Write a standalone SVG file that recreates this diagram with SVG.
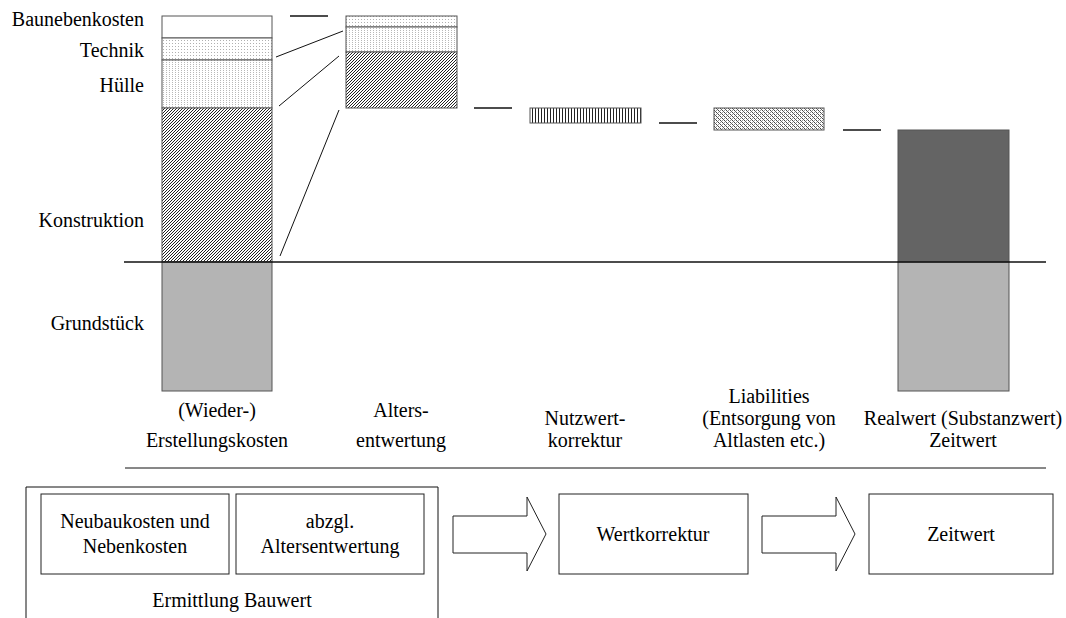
<svg xmlns="http://www.w3.org/2000/svg" width="1066" height="618" viewBox="0 0 1066 618">
<style>
.l{text-anchor:end}
.c{text-anchor:middle}
.seg{stroke:#555;stroke-width:1}
.box{fill:#fff;stroke:#222;stroke-width:1}
.ln{stroke:#111;stroke-width:1;fill:none}
.dash{stroke:#111;stroke-width:1.6}
.arr{fill:#fff;stroke:#222;stroke-width:1}
</style>
<defs>
<pattern id="dots" width="3" height="3" patternUnits="userSpaceOnUse"><rect width="3" height="3" fill="#fff"/><rect x="1" y="1" width="1" height="1" fill="#b0b0b0"/></pattern>
<pattern id="dots2" width="3" height="2" patternUnits="userSpaceOnUse"><rect width="3" height="2" fill="#fff"/><rect x="1" y="0" width="1" height="1" fill="#b8b8b8"/></pattern>
<pattern id="hatch" width="3" height="3" patternUnits="userSpaceOnUse"><rect width="3" height="3" fill="#fff"/><path d="M-1,4 L4,-1 M-1,1 L1,-1 M2,4 L4,2" stroke="#222" stroke-width="1"/></pattern>
<pattern id="vert" width="3" height="3" patternUnits="userSpaceOnUse"><rect width="3" height="3" fill="#fff"/><line x1="1.5" y1="0" x2="1.5" y2="3" stroke="#222" stroke-width="1"/></pattern>
<pattern id="liab" width="4" height="4" patternUnits="userSpaceOnUse"><rect width="4" height="4" fill="#fff"/><rect x="0" y="0" width="1" height="1" fill="#444"/><rect x="1" y="1" width="1" height="1" fill="#666"/><rect x="2" y="2" width="1" height="1" fill="#444"/><rect x="3" y="3" width="1" height="1" fill="#666"/><rect x="2" y="0" width="1" height="1" fill="#999"/><rect x="0" y="2" width="1" height="1" fill="#999"/></pattern>
</defs>
<rect width="1066" height="618" fill="#fff"/>

<g id="bar1-baunebenkosten"><rect class="seg" x="162" y="16" width="110" height="22" fill="#fff"/><text class="l" x="144" y="26" font-family="Liberation Serif" font-size="20">Baunebenkosten</text></g>
<g id="bar1-technik"><rect class="seg" x="162" y="38" width="110" height="22" fill="url(#dots)"/><text class="l" x="144" y="57" font-family="Liberation Serif" font-size="20">Technik</text></g>
<g id="bar1-huelle"><rect class="seg" x="162" y="60" width="110" height="48" fill="url(#dots2)"/><text class="l" x="144" y="92" font-family="Liberation Serif" font-size="20">Hülle</text></g>
<g id="bar1-konstruktion"><rect class="seg" x="162" y="108" width="110" height="154" fill="url(#hatch)"/><text class="l" x="144" y="227" font-family="Liberation Serif" font-size="20">Konstruktion</text></g>
<g id="bar1-grundstueck"><rect class="seg" x="162" y="262" width="110" height="129" fill="#b4b4b4"/><text class="l" x="144" y="330" font-family="Liberation Serif" font-size="20">Grundstück</text></g>
<g id="label1"><text class="c" x="217" y="417" font-family="Liberation Serif" font-size="20">(Wieder-)</text><text class="c" x="217" y="447" font-family="Liberation Serif" font-size="20">Erstellungskosten</text></g>

<g id="bar2">
<rect class="seg" x="346" y="16" width="111" height="11" fill="url(#dots)"/>
<rect class="seg" x="346" y="27" width="111" height="25" fill="url(#dots2)"/>
<rect class="seg" x="346" y="52" width="111" height="56" fill="url(#hatch)"/>
<text class="c" x="401" y="417" font-family="Liberation Serif" font-size="20">Alters-</text><text class="c" x="401" y="447" font-family="Liberation Serif" font-size="20">entwertung</text>
</g>

<g id="bar3"><rect class="seg" x="530" y="108" width="111" height="15" fill="url(#vert)"/><text class="c" x="585" y="425" font-family="Liberation Serif" font-size="20">Nutzwert-</text><text class="c" x="585" y="447" font-family="Liberation Serif" font-size="20">korrektur</text></g>

<g id="bar4"><rect class="seg" x="714" y="108" width="110" height="22" fill="url(#liab)"/><text class="c" x="769" y="403" font-family="Liberation Serif" font-size="20">Liabilities</text><text class="c" x="769" y="425" font-family="Liberation Serif" font-size="20">(Entsorgung von</text><text class="c" x="769" y="447" font-family="Liberation Serif" font-size="20">Altlasten etc.)</text></g>

<g id="bar5"><rect class="seg" x="898" y="130" width="111" height="132" fill="#646464"/><rect class="seg" x="898" y="262" width="111" height="129" fill="#b4b4b4"/><text class="c" x="963" y="425" font-family="Liberation Serif" font-size="20">Realwert (Substanzwert)</text><text class="c" x="963" y="447" font-family="Liberation Serif" font-size="20">Zeitwert</text></g>

<g id="connectors">
<line class="ln" x1="124" y1="262" x2="1046" y2="262" stroke-width="1.5" style="stroke-width:1.5"/>
<line class="ln" x1="125" y1="468" x2="1046" y2="468"/>
<line class="dash" x1="290" y1="16" x2="328" y2="16"/>
<line class="dash" x1="474" y1="108" x2="512" y2="108"/>
<line class="dash" x1="659" y1="123" x2="697" y2="123"/>
<line class="dash" x1="843" y1="130" x2="881" y2="130"/>
<line class="ln" x1="276" y1="57" x2="343" y2="31"/>
<line class="ln" x1="279" y1="106" x2="339" y2="56"/>
<line class="ln" x1="280" y1="256" x2="339" y2="110"/>
<polygon class="arr" points="453,516 527,516 527,497 546,534 527,571 527,553 453,553"/>
<polygon class="arr" points="762,516 836,516 836,497 855,534 836,571 836,553 762,553"/>
</g>

<g id="ermittlung-bauwert"><path class="ln" d="M26,625 V487 H438 V625" stroke="#222"/><text class="c" x="232" y="607" font-family="Liberation Serif" font-size="20">Ermittlung Bauwert</text></g>
<g id="neubaukosten"><rect class="box" x="41" y="494" width="188" height="80"/><text class="c" x="135" y="528" font-family="Liberation Serif" font-size="20">Neubaukosten und</text><text class="c" x="135" y="553" font-family="Liberation Serif" font-size="20">Nebenkosten</text></g>
<g id="altersentwertung"><rect class="box" x="236" y="494" width="188" height="80"/><text class="c" x="330" y="528" font-family="Liberation Serif" font-size="20">abzgl.</text><text class="c" x="330" y="553" font-family="Liberation Serif" font-size="20">Altersentwertung</text></g>
<g id="wertkorrektur"><rect class="box" x="559" y="494" width="189" height="80"/><text class="c" x="653" y="541" font-family="Liberation Serif" font-size="20">Wertkorrektur</text></g>
<g id="zeitwert"><rect class="box" x="869" y="494" width="184" height="80"/><text class="c" x="961" y="541" font-family="Liberation Serif" font-size="20">Zeitwert</text></g>
</svg>
